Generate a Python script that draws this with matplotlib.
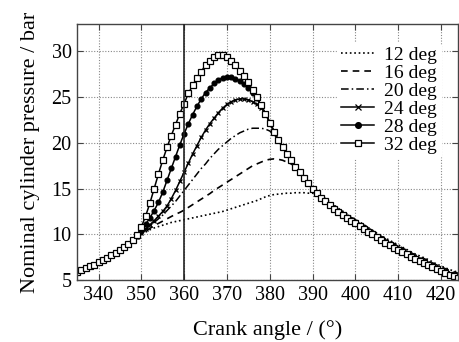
import matplotlib
matplotlib.use('Agg')
import matplotlib.pyplot as plt
import numpy as np

# crank angle, one point per degree
angle = np.arange(335, 425)

# common compression part (335-348 deg)
compression = [5.9, 6.1, 6.3, 6.5, 6.7, 6.95, 7.2, 7.45, 7.7, 8.0, 8.3, 8.65, 9.0, 9.35]

p12 = compression + [
    9.7, 10.0, 10.25, 10.5, 10.7, 10.85, 11.0, 11.15, 11.3, 11.4, 11.5, 11.6,
    11.7, 11.8, 11.9, 12.0, 12.1, 12.2, 12.3, 12.4, 12.5, 12.65,
    12.8, 12.95, 13.1, 13.25, 13.4, 13.55, 13.7, 13.9, 14.1, 14.25,
    14.35, 14.4, 14.45, 14.5, 14.5, 14.55, 14.55, 14.55, 14.5, 14.5, 14.4,
    14.2, 13.9, 13.55, 13.2, 12.85, 12.55, 12.25, 11.95, 11.65,
    11.35, 11.05, 10.75, 10.45, 10.15, 9.85, 9.6, 9.35, 9.1, 8.85,
    8.6, 8.35, 8.1, 7.85, 7.65, 7.45, 7.25, 7.0, 6.75, 6.55,
    6.35, 6.15, 6.0, 5.85]

p16 = compression + [
    9.7, 10.05, 10.35, 10.65, 10.95, 11.2, 11.45, 11.7, 11.95, 12.2, 12.4, 12.65,
    12.95, 13.25, 13.55, 13.85, 14.15, 14.45, 14.8, 15.1, 15.4, 15.7,
    16.0, 16.3, 16.6, 16.9, 17.2, 17.5, 17.7, 17.9, 18.1, 18.2,
    18.25, 18.2, 18.1, 17.9, 17.7, 17.4,
    16.85, 16.3, 15.75, 15.2, 14.7, 14.25, 13.85, 13.45, 13.1, 12.75,
    12.45, 12.15, 11.85, 11.6, 11.3, 11.0, 10.7, 10.4, 10.1, 9.8,
    9.5, 9.25, 9.0, 8.75, 8.5, 8.25, 8.0, 7.75, 7.55, 7.35,
    7.15, 6.9, 6.65, 6.45, 6.25, 6.05, 5.9, 5.75]

p20 = compression + [
    9.7, 10.1, 10.5, 10.9, 11.3, 11.7, 12.1, 12.6, 13.1, 13.6, 14.2, 14.8,
    15.4, 16.0, 16.6, 17.2, 17.7, 18.3, 18.8, 19.3, 19.7, 20.1,
    20.5, 20.8, 21.1, 21.3, 21.5, 21.6, 21.6, 21.6, 21.5, 21.3, 20.9,
    20.4, 19.6, 18.9, 18.2, 17.5, 16.9, 16.3, 15.7, 15.15,
    14.65, 14.2, 13.8, 13.4, 13.05, 12.65, 12.35, 12.05, 11.75, 11.5,
    11.2, 10.9, 10.6, 10.3, 10.0, 9.7, 9.4, 9.1, 8.85, 8.6,
    8.35, 8.1, 7.85, 7.6, 7.4, 7.2, 7.0, 6.75, 6.5, 6.3,
    6.1, 5.9, 5.75, 5.6]

p24 = compression + [
    9.75, 10.15, 10.6, 11.05, 11.5, 12.0, 12.5, 13.1, 13.9, 14.8, 15.8, 16.8,
    17.8, 18.8, 19.7, 20.6, 21.4, 22.1, 22.7, 23.3, 23.8, 24.2,
    24.5, 24.7, 24.8, 24.8, 24.7, 24.5, 24.2, 23.8, 23.2, 22.3, 21.3,
    20.3, 19.5, 18.8, 18.1, 17.4, 16.8, 16.2, 15.65, 15.05,
    14.6, 14.1, 13.7, 13.3, 12.9, 12.5, 12.2, 11.9, 11.6, 11.3,
    11.05, 10.75, 10.45, 10.15, 9.85, 9.55, 9.25, 8.95, 8.7, 8.45,
    8.2, 7.95, 7.7, 7.45, 7.25, 7.05, 6.85, 6.6, 6.35, 6.1,
    5.9, 5.7, 5.55, 5.4]

p28 = compression + [
    9.8, 10.4, 11.1, 11.8, 12.6, 13.5, 14.6, 15.9, 17.2, 18.5, 19.8, 21.0,
    22.1, 23.1, 24.0, 24.8, 25.5, 26.0, 26.5, 26.9, 27.1, 27.2,
    27.2, 27.0, 26.8, 26.4, 26.0, 25.5, 24.9, 24.1, 23.2, 22.2, 21.2,
    20.3, 19.5, 18.8, 18.1, 17.4, 16.8, 16.2, 15.6, 15.0,
    14.5, 14.0, 13.6, 13.25, 12.85, 12.45, 12.15, 11.85, 11.55, 11.25,
    10.95, 10.65, 10.35, 10.05, 9.75, 9.45, 9.15, 8.85, 8.6, 8.35,
    8.1, 7.85, 7.6, 7.35, 7.15, 6.95, 6.75, 6.5, 6.25, 6.0,
    5.8, 5.6, 5.45, 5.3]

p32 = compression + [
    9.9, 10.8, 12.0, 13.4, 15.0, 16.6, 18.1, 19.5, 20.8, 22.0, 23.2, 24.3,
    25.4, 26.3, 27.1, 27.8, 28.5, 29.0, 29.4, 29.6, 29.6, 29.4,
    29.0, 28.5, 27.9, 27.3, 26.6, 25.8, 25.0, 24.1, 23.2, 22.2, 21.2,
    20.3, 19.5, 18.8, 18.1, 17.4, 16.8, 16.2, 15.6, 15.0,
    14.5, 14.0, 13.6, 13.2, 12.8, 12.4, 12.1, 11.8, 11.5, 11.2,
    10.9, 10.6, 10.3, 10.0, 9.7, 9.4, 9.1, 8.8, 8.55, 8.3,
    8.05, 7.8, 7.55, 7.3, 7.1, 6.9, 6.7, 6.45, 6.2, 5.95,
    5.75, 5.55, 5.4, 5.25]

labels = ['12 deg', '16 deg', '20 deg', '24 deg', '28 deg', '32 deg']
series = [p12, p16, p20, p24, p28, p32]
for s in series:
    assert len(s) == len(angle)

plt.rcParams['font.family'] = ['Liberation Serif', 'DejaVu Serif']

fig = plt.figure(figsize=(4.59, 3.42), dpi=100)
ax = fig.add_axes([0.168, 0.181, 0.83, 0.749])

styles = [
    dict(ls=':', lw=1.2, marker=None),
    dict(ls=(0, (4, 3)), lw=1.2, marker=None),
    dict(ls=(0, (5, 2, 1, 2)), lw=1.1, marker=None),
    dict(ls='-', lw=1.1, marker='x', ms=3.2, mew=0.9),
    dict(ls='-', lw=1.1, marker='o', ms=3.4, mfc='black'),
    dict(ls='-', lw=1.1, marker='s', ms=4, mfc='white', mew=0.9),
]

for p, lab, st in zip(series, labels, styles):
    ax.plot(angle, p, color='black', label=lab, **st)

ax.axvline(360, color='#222222', lw=1.2, zorder=5)

ax.set_xlim(335, 424)
ax.set_ylim(5, 33)
ax.set_xticks(np.arange(340, 421, 10))
ax.set_yticks(np.arange(5, 31, 5))
ax.grid(True, ls=(0, (1, 1.5)), color='#888888', lw=0.8)
ax.tick_params(direction='in', top=True, right=True, labelsize=14.5, length=4,
               color='#444444', pad=4)
for sp in ax.spines.values():
    sp.set_color('#444444')
    sp.set_linewidth(1.0)

ax.set_xlabel('Crank angle / (°)', fontsize=16, labelpad=11)
ax.set_ylabel('Nominal cylinder pressure / bar', fontsize=16, labelpad=8)

leg = ax.legend(loc='upper right', bbox_to_anchor=(0.98, 0.965), frameon=True,
                fontsize=14, labelspacing=0.02, handlelength=1.7,
                handletextpad=0.5, borderpad=0.2, numpoints=1,
                markerscale=1.2)
leg.get_frame().set_edgecolor('white')
leg.get_frame().set_facecolor('white')
leg.get_frame().set_alpha(1.0)

fig.savefig('out.png', dpi=100)
